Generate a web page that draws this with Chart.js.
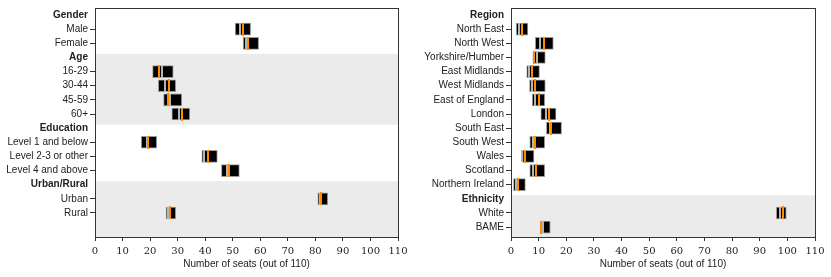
<!DOCTYPE html>
<html><head><meta charset="utf-8">
<script src="https://cdn.jsdelivr.net/npm/chart.js@4.4.1/dist/chart.umd.min.js"></script>
<style>
html,body{margin:0;padding:0;background:#fff;}
#wrap{position:relative;width:831px;height:277px;}
canvas.c{position:absolute;top:0;}
</style></head><body>
<div id="wrap">
<canvas class="c" id="c1" width="415" height="277" style="left:0px"></canvas>
<canvas class="c" id="c2" width="416" height="277" style="left:415px"></canvas>
</div>
<script>
// ---------- Left panel data ----------
const leftLabels = ['Gender','Male','Female','Age','16-29','30-44','45-59','60+','Education','Level 1 and below','Level 2-3 or other','Level 4 and above','Urban/Rural','Urban','Rural'];
const leftHeaders = [true,false,false,true,false,false,false,false,true,false,false,false,true,false,false];
const leftLow    = [null,50.9,53.8,null,20.9,23.0,24.9,27.9,null,16.8,38.8,45.9,null,80.9,25.8];
const leftHigh   = [null,56.5,59.4,null,28.4,29.3,31.5,34.4,null,22.4,44.4,52.4,null,84.5,29.3];
const leftGray   = [null,52.6,54.8,null,24.3,25.3,27.3,30.6,null,18.7,39.7,47.9,null,81.6,26.4];
const leftOrange = [null,53.6,55.6,null,23.4,27.0,26.6,31.5,null,19.3,41.0,48.6,null,82.1,27.2];

// ---------- Right panel data ----------
const rightLabels = ['Region','North East','North West','Yorkshire/Humber','East Midlands','West Midlands','East of England','London','South East','South West','Wales','Scotland','Northern Ireland','Ethnicity','White','BAME'];
const rightHeaders = [true,false,false,false,false,false,false,false,false,false,false,false,false,true,false,false];
const rightLow    = [null,1.9,8.8,7.9,5.7,6.7,7.7,10.8,12.8,6.8,4.2,6.8,0.9,null,96.0,10.7];
const rightHigh   = [null,6.1,15.3,12.4,10.3,12.4,12.2,16.3,18.3,12.2,8.3,12.2,5.2,null,99.6,14.2];
const rightGray   = [null,2.8,10.6,9.3,6.6,7.6,8.8,12.5,14.0,8.1,4.0,8.1,1.9,null,97.4,11.7];
const rightOrange = [null,4.1,11.8,8.5,7.6,8.8,10.0,13.6,14.6,8.8,4.9,8.9,2.7,null,98.4,11.0];

const xTicks = [0,10,20,30,40,50,60,70,80,90,100,110];
const xTitle = 'Number of seats (out of 110)';

const SANS = '"Liberation Sans", Arial, sans-serif';
const SERIF = '"DejaVu Serif", "Liberation Serif", serif';
const Y_MIN = -0.5, Y_MAX = 15.7;

// small vertical-tick marker images used as point styles
function tickImage(color, w, h) {
  const c = document.createElement('canvas');
  c.width = w; c.height = h;
  const g = c.getContext('2d');
  g.fillStyle = color;
  g.fillRect(0, 0, w, h);
  return c;
}
const grayMark = tickImage('#b4b4b4', 2, 12);
const orangeMark = tickImage('#ff8c00', 2, 13);

function makePanel(canvasId, labels, headers, low, high, gray, orange, yWidth, padRight) {
  const idx = labels.map((_, i) => i).filter(i => !headers[i]);
  const headerIdx = labels.map((_, i) => i).filter(i => headers[i]);
  const bands = [];
  headerIdx.forEach((h, k) => {
    if (k % 2 === 1) {
      const end = k + 1 < headerIdx.length ? headerIdx[k + 1] - 0.25 : Y_MAX;
      bands.push([h - 0.25, end]);
    }
  });
  const bgPlugin = {
    id: 'bg',
    beforeDatasetsDraw(chart) {
      const { ctx, chartArea: a, scales: { y } } = chart;
      ctx.save();
      ctx.fillStyle = '#ebebeb';
      bands.forEach(([s, e]) => {
        const y1 = Math.max(a.top, y.getPixelForValue(s));
        const y2 = Math.min(a.bottom, y.getPixelForValue(e));
        ctx.fillRect(a.left, y1, a.right - a.left, y2 - y1);
      });
      ctx.restore();
    },
    afterDraw(chart) {
      const { ctx, chartArea: a } = chart;
      ctx.save();
      ctx.strokeStyle = '#333';
      ctx.lineWidth = 1;
      ctx.strokeRect(Math.round(a.left) + 0.5, Math.round(a.top) + 0.5, Math.round(a.right - a.left), Math.round(a.bottom - a.top));
      ctx.restore();
    }
  };
  return new Chart(document.getElementById(canvasId), {
    data: {
      datasets: [
        {
          type: 'bar',
          indexAxis: 'y',
          data: idx.map(i => ({ x: [low[i], high[i]], y: i })),
          backgroundColor: '#000',
          borderColor: '#9a9a9a',
          borderWidth: 1,
          borderSkipped: false,
          barThickness: 12,
          order: 3
        },
        {
          type: 'scatter',
          data: idx.map(i => ({ x: gray[i], y: i })),
          pointStyle: grayMark,
          radius: 0.5,
          borderWidth: 0,
          order: 2
        },
        {
          type: 'scatter',
          data: idx.map(i => ({ x: orange[i], y: i })),
          pointStyle: orangeMark,
          radius: 0.5,
          borderWidth: 0,
          order: 1
        }
      ]
    },
    options: {
      responsive: false,
      animation: false,
      events: [],
      layout: { padding: { left: 0, right: padRight, top: 8, bottom: 0 } },
      plugins: { legend: { display: false }, tooltip: { enabled: false } },
      scales: {
        x: {
          type: 'linear',
          min: 0, max: 110,
          afterBuildTicks: s => { s.ticks = xTicks.map(v => ({ value: v })); },
          afterFit: s => { s.height = 40; s.paddingLeft = 0; s.paddingRight = 0; },
          border: { display: false },
          grid: { drawOnChartArea: false, drawTicks: true, tickLength: 4, color: '#333', offset: false },
          ticks: { font: { family: SERIF, size: 10 }, color: '#222', padding: 4, maxRotation: 0, autoSkip: false },
          title: { display: true, text: xTitle, font: { family: SANS, size: 10 }, color: '#222', padding: { top: 2, bottom: 7 } }
        },
        y: {
          type: 'linear',
          reverse: true,
          offset: false,
          min: Y_MIN, max: Y_MAX,
          afterBuildTicks: s => { s.ticks = labels.map((_, i) => ({ value: i })); },
          afterFit: s => { s.width = yWidth; s.paddingTop = 0; s.paddingBottom = 0; },
          border: { display: false },
          grid: {
            offset: false,
            drawOnChartArea: false, drawTicks: true, tickLength: 5,
            tickColor: c => (c.tick && headers[c.tick.value]) ? 'rgba(0,0,0,0)' : '#333'
          },
          ticks: {
            autoSkip: false,
            padding: 2,
            callback: v => labels[v],
            color: '#222',
            font: c => ({ family: SANS, size: 10, weight: (c.tick && headers[c.tick.value]) ? 'bold' : 'normal' })
          }
        }
      }
    },
    plugins: [bgPlugin]
  });
}

makePanel('c1', leftLabels, leftHeaders, leftLow, leftHigh, leftGray, leftOrange, 95, 17);
makePanel('c2', rightLabels, rightHeaders, rightLow, rightHigh, rightGray, rightOrange, 96, 16);
</script>
</body></html>
